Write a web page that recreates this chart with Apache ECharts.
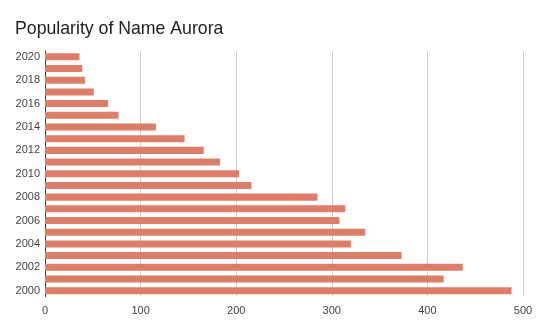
<!DOCTYPE html>
<html><head><meta charset="utf-8">
<script src="https://cdn.jsdelivr.net/npm/echarts@6/dist/echarts.min.js"></script>
<style>html,body{margin:0;padding:0;background:#fff}#c{width:540px;height:334px}</style>
</head><body><div id="c"></div>
<script>
const years = ['2000','2001','2002','2003','2004','2005','2006','2007','2008','2009','2010','2011','2012','2013','2014','2015','2016','2017','2018','2019','2020'];
const counts = [488,417,437,373,320,335,308,314,285,216,203,183,166,146,116,77,66,51,42,39,36];
const xTicks = [0,100,200,300,400,500];
const chart = echarts.init(document.getElementById('c'));
chart.setOption({
  animation:false,
  title:{text:'Popularity of Name Aurora',left:10,top:15,textStyle:{fontFamily:'Liberation Sans, Arial',fontSize:17.7,fontWeight:'normal',color:'#212121'}},
  grid:{left:45,right:17,top:51,bottom:37.5,containLabel:false},
  xAxis:{type:'value',min:xTicks[0],max:xTicks[xTicks.length-1],interval:100,
    axisLine:{show:false},axisTick:{show:false},
    splitLine:{lineStyle:{color:'#cccccc'}},
    axisLabel:{color:'#444',fontFamily:'Liberation Sans, Arial',fontSize:11,margin:9}},
  yAxis:{type:'category',data:years,
    axisLine:{show:true,lineStyle:{color:'#333'}},axisTick:{show:false},
    axisLabel:{interval:1,color:'#444',fontFamily:'Liberation Sans, Arial',fontSize:11,margin:5}},
  series:[{type:'bar',data:counts,barWidth:'60%',itemStyle:{color:'#dd7e6b'}}]
});
</script></body></html>
